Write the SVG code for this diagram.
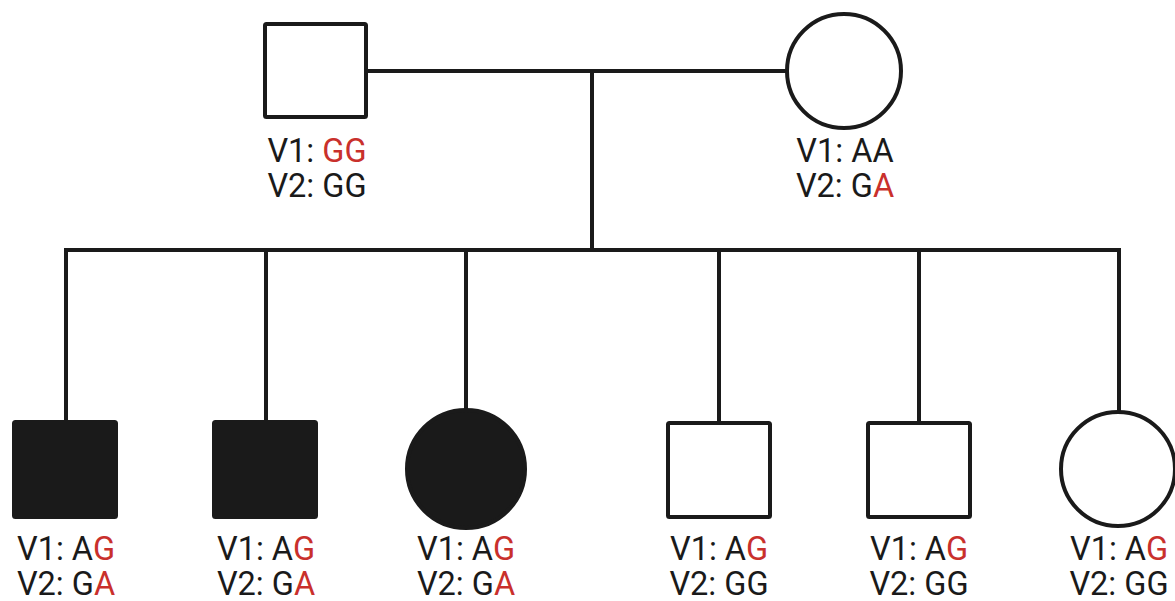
<svg xmlns="http://www.w3.org/2000/svg" width="1175" height="601" viewBox="0 0 1175 601">
<style>
.ln{stroke:#1a1a1a;stroke-width:4;fill:none;stroke-linecap:square}
.open{fill:#ffffff;stroke:#1a1a1a;stroke-width:4}
.aff{fill:#1a1a1a;stroke:#1a1a1a;stroke-width:4}
.lbl{font-family:Roboto,"Liberation Sans",sans-serif;font-size:32.5px;fill:#1a1a1a;text-anchor:middle}
.r{fill:#c9302c}
</style>
<rect width="1175" height="601" fill="#ffffff"/>
<g id="connectors">
<line class="ln" x1="367" y1="71" x2="786" y2="71"/>
<line class="ln" x1="592" y1="71" x2="592" y2="250"/>
<line class="ln" x1="66" y1="250" x2="1119" y2="250"/>
<line class="ln" x1="66" y1="250" x2="66" y2="421"/>
<line class="ln" x1="266" y1="250" x2="266" y2="421"/>
<line class="ln" x1="466" y1="250" x2="466" y2="409"/>
<line class="ln" x1="719" y1="250" x2="719" y2="421"/>
<line class="ln" x1="919" y1="250" x2="919" y2="421"/>
<line class="ln" x1="1119" y1="250" x2="1119" y2="411"/>
</g>
<g id="father">
<rect class="open" x="265" y="24" width="101" height="93" rx="1.5"/>
<text class="lbl" x="317" y="162">V1: <tspan class="r">GG</tspan></text>
<text class="lbl" x="317" y="197">V2: GG</text>
</g>
<g id="mother">
<circle class="open" cx="844" cy="71" r="57"/>
<text class="lbl" x="845" y="162">V1: AA</text>
<text class="lbl" x="845" y="197">V2: G<tspan class="r">A</tspan></text>
</g>
<g id="child1">
<rect class="aff" x="14" y="422" width="102" height="95" rx="1.5"/>
<text class="lbl" x="66" y="560">V1: A<tspan class="r">G</tspan></text>
<text class="lbl" x="66" y="595">V2: G<tspan class="r">A</tspan></text>
</g>
<g id="child2">
<rect class="aff" x="214" y="422" width="102" height="95" rx="1.5"/>
<text class="lbl" x="266" y="560">V1: A<tspan class="r">G</tspan></text>
<text class="lbl" x="266" y="595">V2: G<tspan class="r">A</tspan></text>
</g>
<g id="child3">
<circle class="aff" cx="466" cy="469" r="59"/>
<text class="lbl" x="466" y="560">V1: A<tspan class="r">G</tspan></text>
<text class="lbl" x="466" y="595">V2: G<tspan class="r">A</tspan></text>
</g>
<g id="child4">
<rect class="open" x="668" y="423" width="102" height="94" rx="1.5"/>
<text class="lbl" x="719" y="560">V1: A<tspan class="r">G</tspan></text>
<text class="lbl" x="719" y="595">V2: GG</text>
</g>
<g id="child5">
<rect class="open" x="868" y="423" width="102" height="94" rx="1.5"/>
<text class="lbl" x="919" y="560">V1: A<tspan class="r">G</tspan></text>
<text class="lbl" x="919" y="595">V2: GG</text>
</g>
<g id="child6">
<circle class="open" cx="1118" cy="469" r="57"/>
<text class="lbl" x="1119" y="560">V1: A<tspan class="r">G</tspan></text>
<text class="lbl" x="1119" y="595">V2: GG</text>
</g>
</svg>
